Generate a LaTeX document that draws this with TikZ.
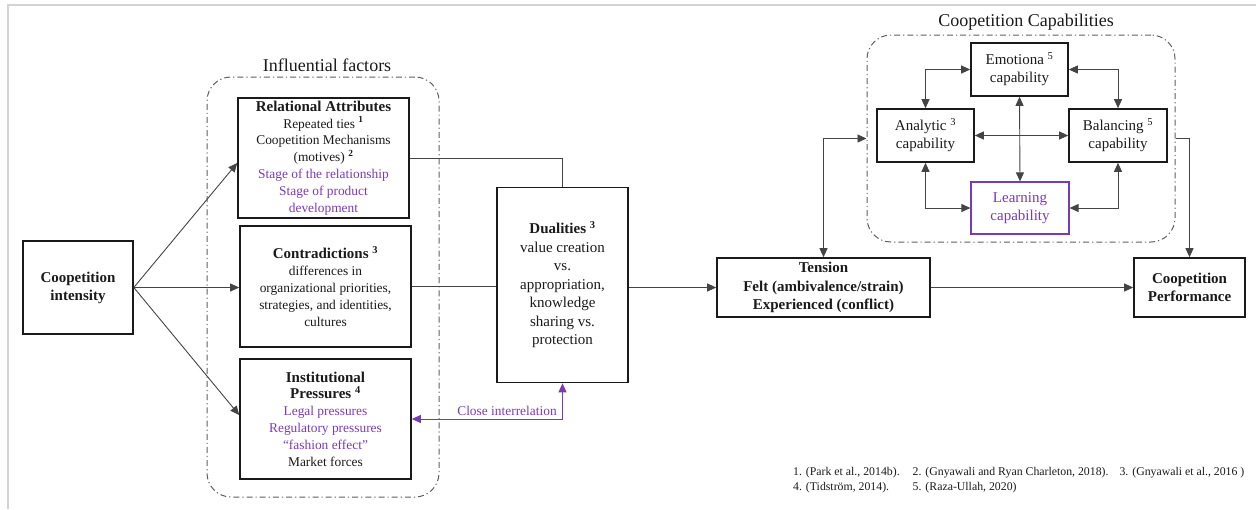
\documentclass[tikz,border=0pt]{standalone}
\usepackage{fontspec}
\setmainfont{Liberation Serif}
\usetikzlibrary{arrows.meta}
\definecolor{purp}{HTML}{7A3AB8}
\definecolor{ink}{HTML}{1A1A1A}
\definecolor{wire}{HTML}{444444}
\definecolor{framegray}{HTML}{D4D4D4}
\newcommand{\mkhead}{\fontsize{15}{18}\selectfont\bfseries}
\newcommand{\mkbody}{\fontsize{13.4}{16.8}\selectfont}
\begin{document}
\begin{tikzpicture}[x=1pt,y=-1pt,
  box/.style={draw=ink, line width=1.6pt, text=ink, align=center, inner sep=0pt},
  capbox/.style={box, minimum width=97pt, minimum height=53pt, font=\fontsize{15}{18}\selectfont},
  group/.style={draw=gray!75!black, line width=1pt, dash pattern=on 6pt off 3pt on 1.2pt off 3pt, rounded corners=24pt},
  wire/.style={draw=wire, line width=0.9pt},
  tip/.style={-{Triangle[length=9pt,width=8pt]}},
  tips/.style={{Triangle[length=9pt,width=8pt]}-{Triangle[length=9pt,width=8pt]}},
  title/.style={text=ink, font=\fontsize{18}{20}\selectfont, inner sep=0pt},
]
\useasboundingbox (0,0) rectangle (1256,509);
% page frame
\draw[framegray, line width=2pt] (8,509) -- (8,5) -- (1256,5);

% left column
\node[box, minimum width=110pt, minimum height=93pt, font=\fontsize{15}{18}\selectfont\bfseries] (ci) at (78,287.5) {Coopetition\\intensity};

% influential factors group
\node[group, minimum width=232pt, minimum height=420pt] (infl) at (323,287) {};
\node[title] (inflT) at (327,65) {Influential factors};

\node[box, minimum width=171pt, minimum height=120pt, font=\mkbody] (rel) at (323.5,158)
  {{\mkhead Relational Attributes}\\
   Repeated ties \textsuperscript{\textbf{1}}\\
   Coopetition Mechanisms\\
   (motives) \textsuperscript{\textbf{2}}\\
   {\color{purp}Stage of the relationship}\\
   {\color{purp}Stage of product}\\
   {\color{purp}development}};

\node[box, minimum width=171pt, minimum height=121pt, font=\mkbody] (con) at (325.5,286.5)
  {{\mkhead Contradictions \textsuperscript{3}}\\
   differences in\\
   organizational priorities,\\
   strategies, and identities,\\
   cultures};

\node[box, minimum width=171pt, minimum height=120pt, font=\mkbody] (ins) at (325.5,419)
  {{\mkhead Institutional}\\
   {\mkhead Pressures \textsuperscript{4}}\\
   {\color{purp}Legal pressures}\\
   {\color{purp}Regulatory pressures}\\
   {\color{purp}“fashion effect”}\\
   Market forces};

\node[box, minimum width=131pt, minimum height=195pt, font=\fontsize{15}{18.5}\selectfont] (dual) at (562.5,285)
  {{\bfseries Dualities \textsuperscript{3}}\\
   value creation\\
   vs.\\
   appropriation,\\
   knowledge\\
   sharing vs.\\
   protection};

% tension and performance
\node[box, minimum width=213pt, minimum height=59pt, font=\fontsize{15}{18.5}\selectfont\bfseries] (ten) at (823.5,287.5)
  {Tension\\Felt (ambivalence/strain)\\Experienced (conflict)};
\node[box, minimum width=111pt, minimum height=59pt, font=\fontsize{15}{18.5}\selectfont\bfseries] (perf) at (1189.5,287.5)
  {Coopetition\\Performance};

% capabilities group
\node[group, minimum width=308pt, minimum height=207pt] (capg) at (1021,138.5) {};
\node[title] (capT) at (1026,22) {Coopetition Capabilities};
\node[capbox] (emo) at (1019.5,69.5) {Emotiona \textsuperscript{5}\\capability};
\node[capbox] (ana) at (925.5,135.5) {Analytic \textsuperscript{3}\\capability};
\node[capbox, minimum width=98pt] (bal) at (1118,135.5) {Balancing \textsuperscript{5}\\capability};
\node[capbox, draw=purp, line width=1.2pt, text=purp, minimum width=98pt, minimum height=52pt] (lea) at (1020,208) {Learning\\capability};

% connectors: left part
\draw[wire, tip] (ci.east) -- ([yshift=-5pt]rel.west);
\draw[wire, tip] (ci.east) -- (ci.east -| con.west);
\draw[wire, tip] (ci.east) -- ([yshift=4pt]ins.west);
\draw[wire] (rel.east) -| (dual.north);
\draw[wire] (con.east) -- (con.east -| dual.west);
\draw[wire, tip] (dual.east |- ten.west) -- (ten.west);
\draw[purp, line width=0.9pt, tips] (ins.east) -| (dual.south);
\node[text=purp, font=\mkbody, inner sep=0pt] (closeL) at (507,411) {Close interrelation};

% connectors: right part
\draw[wire, tips] (ten.north) |- (capg.west);
\draw[wire, tip] (capg.east) -| (perf.north);
\draw[wire, tip] (ten.east) -- (perf.west);
\draw[wire, tips] (emo.west) -| (ana.north);
\draw[wire, tips] (emo.east) -| (bal.north);
\draw[wire, tips] (ana.east) -- (bal.west);
\draw[wire, tips] (emo.south) -- (lea.north);
\draw[wire, tips] (ana.south) |- (lea.west);
\draw[wire, tips] (bal.south) |- (lea.east);

% references
\node[anchor=north west, inner sep=0pt, text=ink, font=\fontsize{11.8}{15}\selectfont] (refs) at (793,465)
  {\begin{tabular}{@{}l@{\hspace{13pt}}l@{\hspace{11pt}}l@{}}
   1. (Park et al., 2014b). & 2. (Gnyawali and Ryan Charleton, 2018). & 3. (Gnyawali et al., 2016 )\\
   4. (Tidström, 2014). & 5. (Raza-Ullah, 2020) &
   \end{tabular}};
\end{tikzpicture}
\end{document}
